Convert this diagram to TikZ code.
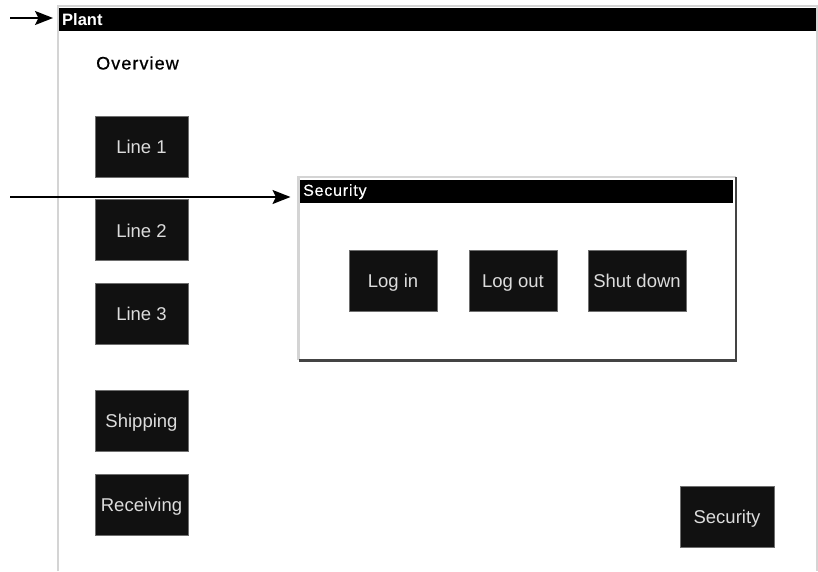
\documentclass[tikz,border=0pt]{standalone}
\usepackage{fontspec}
\setmainfont{Liberation Sans}
\usetikzlibrary{arrows.meta}

\definecolor{btnfill}{HTML}{111111}
\definecolor{btnedge}{HTML}{6E6E6E}
\definecolor{btntext}{HTML}{DCDCDC}
\definecolor{lightedge}{HTML}{D4D4D4}
\definecolor{darkedge}{HTML}{444444}

\begin{document}
\begin{tikzpicture}[x=1pt,y=-1pt,
  titlebar/.style={fill=black, text=white, anchor=north west, inner xsep=3pt,
    inner ysep=0pt, minimum height=23pt, align=left,
    font=\fontsize{16}{18}\selectfont},
  btn/.style={fill=btnfill, draw=btnedge, line width=0.8pt, text=btntext,
    minimum height=61pt, inner sep=0pt, text height=17pt, text depth=2.7pt,
    font=\fontsize{18.5}{20}\selectfont},
  pointer/.style={-{Stealth[length=18pt,width=14pt,inset=3.5pt]}, line width=2pt}]

\useasboundingbox (0,0) rectangle (818,571);
\fill[white] (0,0) rectangle (818,571);

% Plant main window: frame and title bar
\draw[lightedge, line width=2pt] (58,571) -- (58,6) -- (817,6) -- (817,571);
\node[titlebar, text width=751pt, font=\bfseries\fontsize{16.5}{18}\selectfont]
  (plantbar) at (59,8) {Plant};

\node[anchor=west, inner sep=0pt,
  font=\fontsize{18}{20}\selectfont\addfontfeatures{LetterSpace=6,FakeBold=0.8}]
  (overview) at (96,63) {Overview};

% Navigation buttons
\node[btn, minimum width=93pt] (line1) at (141.5,146.5) {Line 1};
\node[btn, minimum width=93pt] (line2) at (141.5,230) {Line 2};
\node[btn, minimum width=93pt] (line3) at (141.5,313.5) {Line 3};
\node[btn, minimum width=93pt] (shipping) at (141.5,420.5) {Shipping};
\node[btn, minimum width=93pt] (receiving) at (141.5,504.5) {Receiving};
\node[btn, minimum width=94pt] (securitybtn) at (727,516.5) {Security};

% Security pop-up window
\node[fill=white, anchor=north west, minimum width=437pt, minimum height=183pt,
  inner sep=0pt] (secwin) at (298.5,177) {};
\draw[lightedge, line width=2.5pt] (secwin.south west) -- (secwin.north west) -- (secwin.north east);
\draw[darkedge, line width=2.5pt] (secwin.north east) -- (secwin.south east) -- (secwin.south west);
\node[titlebar, text width=427pt] (secbar) at (300,180)
  {\addfontfeatures{LetterSpace=5,FakeBold=0.3}Security};

\node[btn, minimum width=88pt] (login) at (393,280.5) {Log in};
\node[btn, minimum width=88pt] (logout) at (513,280.5) {Log out};
\node[btn, minimum width=98pt] (shutdown) at (637,280.5) {Shut down};

% Callout arrows
\coordinate (ptA) at (10,18);
\coordinate (ptB) at (10,197);
\draw[pointer, shorten >=6pt] (ptA) -- (plantbar.west |- ptA);
\draw[pointer, shorten >=8pt] (ptB) -- (secwin.west |- ptB);

\end{tikzpicture}
\end{document}
